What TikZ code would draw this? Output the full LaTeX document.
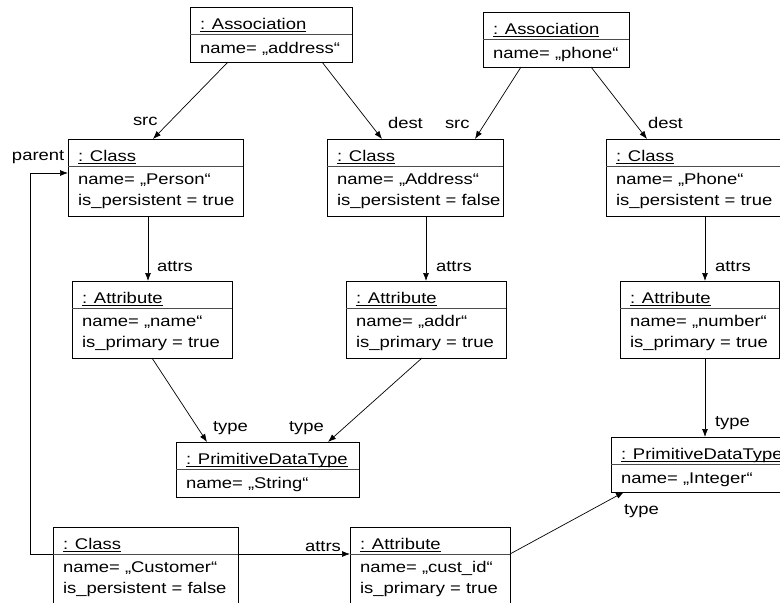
\documentclass[tikz,border=0pt]{standalone}
\usepackage{fontspec}
\setmainfont{Liberation Sans}[FakeStretch=1.19]
\usetikzlibrary{arrows.meta,calc}
\newcommand\ulin[1]{\setbox0\hbox{#1}\rlap{\rule[-2.6pt]{\wd0}{1.2pt}}\box0}
\tikzset{
  obj/.style={draw=black, line width=0.8pt, fill=white, inner sep=0pt, outer sep=0pt, anchor=north west},
  txt/.style={inner sep=0pt, outer sep=0pt, anchor=base west, font=\fontsize{15.5}{18}\selectfont},
  divider/.style={draw=black!70, line width=0.8pt},
  conn/.style={draw=black, line width=0.7pt, -{Latex[length=8pt,width=6pt]}},
}
\newcommand\objtwo[3]{%
  \draw[divider] ($(#1.north west)+(0,27)$) -- ($(#1.north east)+(0,27)$);
  \node[txt] (#1-title) at ($(#1.north west)+(10,22.5)$) {\ulin{#2}};
  \node[txt] (#1-l1) at ($(#1.north west)+(10,46)$) {#3};
}
\newcommand\objthree[4]{%
  \draw[divider] ($(#1.north west)+(0,27)$) -- ($(#1.north east)+(0,27)$);
  \node[txt] (#1-title) at ($(#1.north west)+(10,22.5)$) {\ulin{#2}};
  \node[txt] (#1-l1) at ($(#1.north west)+(10,45)$) {#3};
  \node[txt] (#1-l2) at ($(#1.north west)+(10,66)$) {#4};
}
\begin{document}
\begin{tikzpicture}[x=1pt,y=-1pt]
\useasboundingbox (0,0) rectangle (780,603);
\clip (0,0) rectangle (780,603);
\fill[white] (0,0) rectangle (780,603);

% boxes
\node[obj, minimum width=162pt, minimum height=55pt] (a1) at (190,7) {};
\node[obj, minimum width=146pt, minimum height=55pt] (a2) at (483,12) {};
\node[obj, minimum width=175pt, minimum height=77pt] (c1) at (68,139) {};
\node[obj, minimum width=176pt, minimum height=77pt] (c2) at (327,139) {};
\node[obj, minimum width=176pt, minimum height=77pt] (c3) at (606,139) {};
\node[obj, minimum width=160pt, minimum height=77pt] (t1) at (72,281) {};
\node[obj, minimum width=160pt, minimum height=77pt] (t2) at (346,281) {};
\node[obj, minimum width=159pt, minimum height=77pt] (t3) at (620,281) {};
\node[obj, minimum width=183pt, minimum height=55pt] (p1) at (176,442) {};
\node[obj, minimum width=183pt, minimum height=55pt] (p2) at (611,437) {};
\node[obj, minimum width=185pt, minimum height=90pt] (c4) at (53,527) {};
\node[obj, minimum width=160pt, minimum height=90pt] (t4) at (350,527) {};

\objtwo{a1}{: Association}{name= „address“}
\objtwo{a2}{: Association}{name= „phone“}
\objthree{c1}{: Class}{name= „Person“}{is\_persistent = true}
\objthree{c2}{: Class}{name= „Address“}{is\_persistent = false}
\objthree{c3}{: Class}{name= „Phone“}{is\_persistent = true}
\objthree{t1}{: Attribute}{name= „name“}{is\_primary = true}
\objthree{t2}{: Attribute}{name= „addr“}{is\_primary = true}
\objthree{t3}{: Attribute}{name= „number“}{is\_primary = true}
\objtwo{p1}{: PrimitiveDataType}{name= „String“}
\objtwo{p2}{: PrimitiveDataType}{name= „Integer“}
\objthree{c4}{: Class}{name= „Customer“}{is\_persistent = false}
\objthree{t4}{: Attribute}{name= „cust\_id“}{is\_primary = true}

% connectors
\draw[conn] ($(a1.south west)+(38,0)$) -- ($(c1.north west)+(85,0)$);
\draw[conn] ($(a1.south west)+(132,0)$) -- ($(c2.north west)+(55,0)$);
\draw[conn] ($(a2.south west)+(38,0)$) -- ($(c2.north west)+(148,0)$);
\draw[conn] ($(a2.south west)+(108,0)$) -- ($(c3.north west)+(41,0)$);
\draw[conn] ($(c1.south west)+(80,0)$) -- ($(t1.north west)+(76,0)$);
\draw[conn] ($(c2.south west)+(99,0)$) -- ($(t2.north west)+(80,0)$);
\draw[conn] ($(c3.south west)+(99,0)$) -- ($(t3.north west)+(85,0)$);
\draw[conn] ($(t1.south west)+(80,0)$) -- ($(p1.north west)+(31,0)$);
\draw[conn] ($(t2.south west)+(76,0)$) -- ($(p1.north west)+(152,0)$);
\draw[conn] ($(t3.south west)+(85,0)$) -- ($(p2.north west)+(94,0)$);
\draw[conn] ($(t4.north east)+(0,27)$) -- ($(p2.south west)+(13,0)$);
\draw[conn] ($(c4.north east)+(0,27)$) -- ($(t4.north west)+(0,27)$);
\draw[conn] ($(c4.north west)+(0,27)$) -- ++(-23,0) |- ($(c1.north west)+(0,34)$);

% labels
\node[txt] (lsrc1) at (133,125) {src};
\node[txt] (ldest1) at (388,128) {dest};
\node[txt] (lsrc2) at (445,128) {src};
\node[txt] (ldest2) at (648,128) {dest};
\node[txt] (lparent) at (12,160) {parent};
\node[txt] (lattrs1) at (157,271) {attrs};
\node[txt] (lattrs2) at (436,271) {attrs};
\node[txt] (lattrs3) at (715,271) {attrs};
\node[txt] (ltype1) at (213,431) {type};
\node[txt] (ltype2) at (289,431) {type};
\node[txt] (ltype3) at (715,426) {type};
\node[txt] (ltype4) at (624,514) {type};
\node[txt] (lattrs4) at (305,551) {attrs};
\end{tikzpicture}
\end{document}
